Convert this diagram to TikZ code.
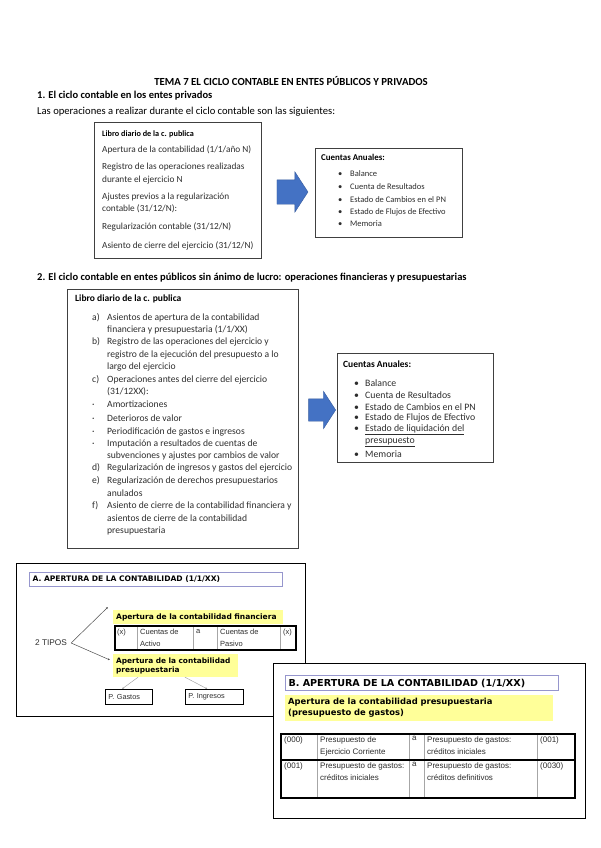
\documentclass[tikz,border=0pt]{standalone}
\usepackage{fontspec}
\setmainfont{Carlito}
\newfontfamily\verdanafont{DejaVu Sans}
\newfontfamily\arialfont{Liberation Sans}
\usetikzlibrary{shapes.arrows,arrows.meta,positioning}
\definecolor{officeblue}{RGB}{68,114,196}
\definecolor{hiyellow}{RGB}{255,255,153}
\definecolor{lavender}{RGB}{150,150,205}
\definecolor{inkgray}{RGB}{45,45,45}

\begin{document}
\begin{tikzpicture}[x=1pt,y=-1pt]
  \tikzstyle{txt}=[anchor=west,inner sep=0pt,text=inkgray]
  \tikzstyle{txtb}=[anchor=west,inner sep=0pt,text=black]
  \tikzstyle{head}=[anchor=west,inner sep=0pt,font=\fontsize{10.5}{12}\selectfont\bfseries]
  \tikzstyle{panel}=[draw=black!75,line width=0.7pt,anchor=north west,inner sep=0pt]
  \tikzstyle{bigarrow}=[single arrow,fill=officeblue,draw=officeblue!80!black,line width=0.4pt,
    inner sep=0pt,text depth=0pt,single arrow head extend=8pt,single arrow tip angle=114]
  \tikzstyle{titlebox}=[draw=lavender,line width=1.2pt,fill=white,anchor=north west,inner xsep=3pt,
    align=left]
  \tikzstyle{hilite}=[fill=hiyellow,anchor=north west,inner xsep=3pt,align=left]
  \tikzstyle{cell}=[anchor=north west,inner sep=0pt,align=left,text=inkgray]
  \tikzstyle{tipo}=[draw=black,line width=0.9pt,anchor=north west,inner xsep=3pt,align=left,
    font=\arialfont\fontsize{7.3}{9}\selectfont,text=inkgray]
  \tikzstyle{link}=[draw=black!70,line width=0.5pt,-{Latex[length=2pt,width=2pt]}]
  \useasboundingbox (0,0) rectangle (600,848);

  % headings
  \node[anchor=center,inner sep=0pt,font=\fontsize{10.8}{12}\selectfont\bfseries] (tema) at (291,81)
    {TEMA 7 EL CICLO CONTABLE EN ENTES PÚBLICOS Y PRIVADOS};
  \node[head] (sec1) at (37,96) {1. El ciclo contable en los entes privados};
  \node[anchor=west,inner sep=0pt,font=\fontsize{10.6}{12}\selectfont] (intro) at (37,112)
    {Las operaciones a realizar durante el ciclo contable son las siguientes:};
  \node[head] (sec2) at (37,278)
    {2. El ciclo contable en entes públicos sin ánimo de lucro: operaciones financieras y presupuestarias};

  % section 1
  \node[panel,minimum width=167pt,minimum height=136pt] (diario1) at (94,122) {};
  \node[txtb,font=\fontsize{8.2}{10}\selectfont\bfseries] (diario1-head) at (102,134) {Libro diario de la c. publica};
  \foreach \y/\t [count=\i] in {150/{Apertura de la contabilidad (1/1/año N)},
      167/{Registro de las operaciones realizadas},180/{durante el ejercicio N},
      197/{Ajustes previos a la regularización},209/{contable (31/12/N):},
      227/{Regularización contable (31/12/N)},246/{Asiento de cierre del ejercicio (31/12/N)}}
    \node[txt,font=\fontsize{9.3}{11}\selectfont] (diario1-\i) at (102,\y) {\t};

  \node[bigarrow,text height=24pt,minimum height=31pt] (flecha1) at (288.5,192) {};

  \node[panel,minimum width=147pt,minimum height=89pt] (anuales1) at (315,148) {};
  \node[txtb,font=\fontsize{8.9}{10}\selectfont\bfseries] (anuales1-head) at (321,157) {Cuentas Anuales:};
  \foreach \y/\t [count=\i] in {174/Balance,187/Cuenta de Resultados,200/Estado de Cambios en el PN,
      212/Estado de Flujos de Efectivo,224/Memoria}
    \node[txt,font=\fontsize{8.5}{10}\selectfont] (anuales1-\i) at (338,\y) {\makebox[12pt][l]{•}\t};

  % section 2
  \node[panel,minimum width=231pt,minimum height=259pt] (diario2) at (67,289) {};
  \node[txtb,font=\fontsize{9.5}{11}\selectfont\bfseries] (diario2-head) at (75,299) {Libro diario de la c. publica};
  \foreach \y/\l/\t [count=\i] in {318/a)/{Asientos de apertura de la contabilidad},
      330//{financiera y presupuestaria (1/1/XX)},
      342/b)/{Registro de las operaciones del ejercicio y},
      355//{registro de la ejecución del presupuesto a lo},
      367//{largo del ejercicio},
      380/c)/{Operaciones antes del cierre del ejercicio},
      392//{(31/12XX):},
      404/·/{Amortizaciones},
      418/·/{Deterioros de valor},
      432/·/{Periodificación de gastos e ingresos},
      444/·/{Imputación a resultados de cuentas de},
      456//{subvenciones y ajustes por cambios de valor},
      468/d)/{Regularización de ingresos y gastos del ejercicio},
      481/e)/{Regularización de derechos presupuestarios},
      493//{anulados},
      506/f)/{Asiento de cierre de la contabilidad financiera y},
      518//{asientos de cierre de la contabilidad},
      531//{presupuestaria}}
    \node[txt,font=\fontsize{9.6}{11}\selectfont] (diario2-\i) at (92,\y) {\makebox[15pt][l]{\l}\t};

  \node[bigarrow,text height=22pt,minimum height=27pt,single arrow head extend=7.5pt] (flecha2) at (318.5,410) {};

  \node[panel,minimum width=156pt,minimum height=109pt] (anuales2) at (337,353) {};
  \node[txtb,font=\fontsize{9.5}{11}\selectfont\bfseries] (anuales2-head) at (343,364) {Cuentas Anuales:};
  \foreach \y/\b/\t [count=\i] in {383/•/Balance,395/•/Cuenta de Resultados,
      407/•/Estado de Cambios en el PN,418/•/Estado de Flujos de Efectivo,
      430/•/{\underline{Estado de liquidación del}},442//{\underline{presupuesto}},454/•/Memoria}
    \node[txt,font=\fontsize{9.8}{11}\selectfont] (anuales2-\i) at (354,\y) {\makebox[11pt][l]{\b}\t};

  % panel A
  \node[panel,draw=black,line width=0.8pt,minimum width=289pt,minimum height=153pt] (panelA) at (16,563) {};
  \node[titlebox,text width=247pt,minimum height=14pt,font=\verdanafont\bfseries\fontsize{7.6}{9}\selectfont]
    (tituloA) at (29,572) {A. APERTURA DE LA CONTABILIDAD (1/1/XX)};
  \node[hilite,text width=164pt,minimum height=13pt,font=\verdanafont\bfseries\fontsize{7.5}{9}\selectfont]
    (fin) at (113,610) {Apertura de la contabilidad financiera};
  \node[hilite,text width=119pt,minimum height=20pt,font=\verdanafont\bfseries\fontsize{7.4}{9}\selectfont]
    (presup) at (113,654) {Apertura de la contabilidad\\presupuestaria};
  \node[anchor=center,inner sep=0pt,text=inkgray,font=\arialfont\fontsize{8.3}{10}\selectfont] (tipos) at (51,643) {2 TIPOS};
  \coordinate[right=4pt of tipos.east] (vertice);
  \draw[link] (vertice) -- ([shift={(-5,-3)}]fin.north west);
  \draw[link] (vertice) -- ([shift={(-3,6)}]presup.north west);

  % table A
  \draw[gray!70,line width=0.4pt] (137,626) -- (137,650) (193,626) -- (193,650)
    (217,626) -- (217,650) (280,626) -- (280,650);
  \draw[black,line width=1.4pt] (115,626) rectangle (296,650);
  \foreach \x/\t [count=\i] in {117/(x),140/{Cuentas de\\Activo},196/a,220/{Cuentas de\\Pasivo},283/(x)}
    \node[cell,font=\arialfont\fontsize{7.5}{12}\selectfont] (tablaA-\i) at (\x,629) {\t};

  \node[tipo,text width=41pt,minimum height=15pt] (gastos) at (105,689) {P. Gastos};
  \node[tipo,text width=52pt,minimum height=15pt] (ingresos) at (185,689) {P. Ingresos};
  \draw[link,draw=gray!70] ([xshift=25pt]presup.south west) -- ([xshift=-7pt]gastos.north);
  \draw[link,draw=gray!70] ([xshift=72pt]presup.south west) -- ([xshift=-7pt]ingresos.north);

  % panel B
  \node[panel,draw=black,line width=0.8pt,fill=white,minimum width=312pt,minimum height=155pt] (panelB) at (273,663) {};
  \node[titlebox,text width=267pt,minimum height=15pt,font=\verdanafont\bfseries\fontsize{9.6}{11}\selectfont]
    (tituloB) at (285,675) {B. APERTURA DE LA CONTABILIDAD (1/1/XX)};
  \node[hilite,text width=262pt,minimum height=24pt,font=\verdanafont\bfseries\fontsize{8.4}{10.5}\selectfont]
    (presupB) at (285,695) {Apertura de la contabilidad presupuestaria\\(presupuesto de gastos)};

  % table B
  \draw[gray!70,line width=0.4pt] (317,734) -- (317,798) (409,734) -- (409,798)
    (424,734) -- (424,798) (537,734) -- (537,798);
  \draw[black,line width=1.4pt] (281,734) rectangle (575,798) (281,760) -- (575,760);
  \foreach \x/\t [count=\i] in {284/(000),320/{Presupuesto de\\Ejercicio Corriente},412/a,
      427/{Presupuesto de gastos:\\créditos iniciales},540/(001)}
    \node[cell,font=\arialfont\fontsize{8}{12}\selectfont] (tablaB1-\i) at (\x,736) {\t};
  \foreach \x/\t [count=\i] in {284/(001),320/{Presupuesto de gastos:\\créditos iniciales},412/a,
      427/{Presupuesto de gastos:\\créditos definitivos},540/(0030)}
    \node[cell,font=\arialfont\fontsize{8}{12}\selectfont] (tablaB2-\i) at (\x,762) {\t};
\end{tikzpicture}
\end{document}
